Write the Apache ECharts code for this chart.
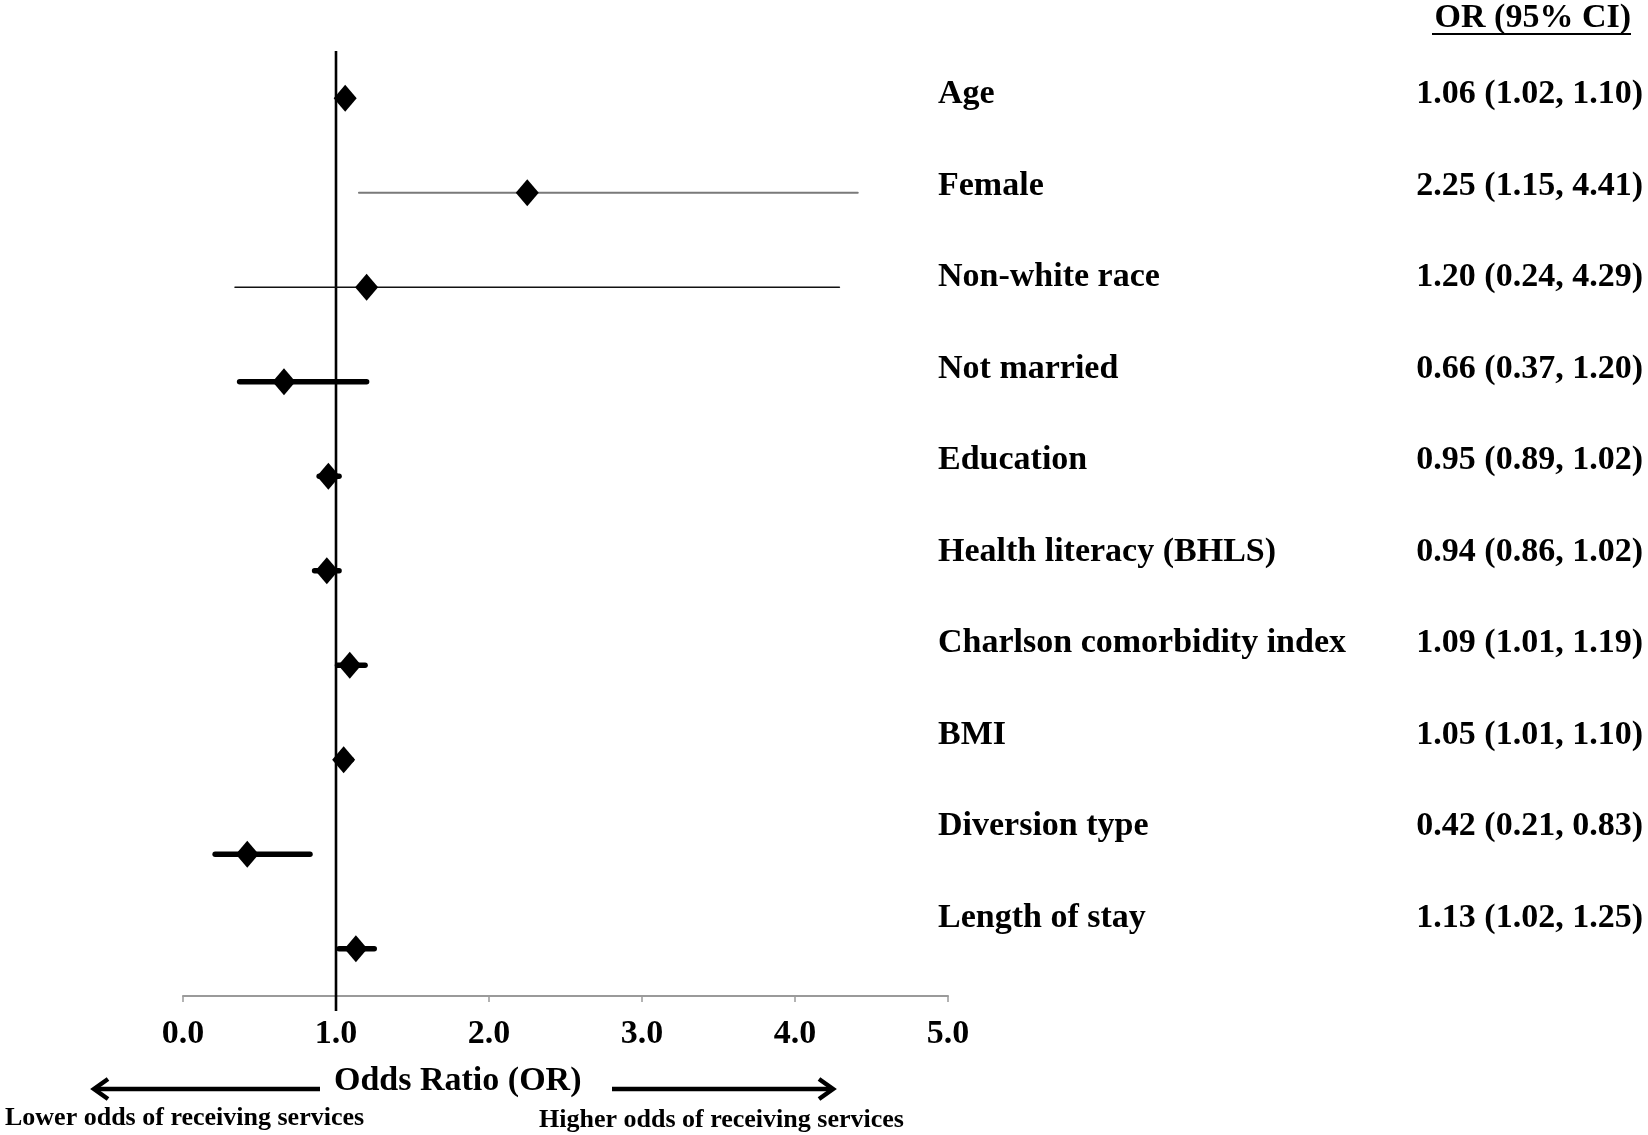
<!DOCTYPE html>
<html>
<head>
<meta charset="utf-8">
<script src="https://cdn.jsdelivr.net/npm/echarts@6/dist/echarts.min.js"></script>
<style>
  html, body { margin: 0; padding: 0; background: #fff; }
  #chart { width: 1648px; height: 1135px; }
</style>
</head>
<body>
<div id="chart"></div>
<script>
// ---- data ----
const categories = ['Age', 'Female', 'Non-white race', 'Not married', 'Education',
  'Health literacy (BHLS)', 'Charlson comorbidity index', 'BMI', 'Diversion type', 'Length of stay'];
const orValues = [1.06, 2.25, 1.20, 0.66, 0.95, 0.94, 1.09, 1.05, 0.42, 1.13];
const ciLower  = [1.02, 1.15, 0.34, 0.37, 0.89, 0.86, 1.01, 1.01, 0.21, 1.02];
const ciUpper  = [1.10, 4.41, 4.29, 1.20, 1.02, 1.02, 1.19, 1.10, 0.83, 1.25];
const ciLabels = ['1.06 (1.02, 1.10)', '2.25 (1.15, 4.41)', '1.20 (0.24, 4.29)', '0.66 (0.37, 1.20)',
  '0.95 (0.89, 1.02)', '0.94 (0.86, 1.02)', '1.09 (1.01, 1.19)', '1.05 (1.01, 1.10)',
  '0.42 (0.21, 0.83)', '1.13 (1.02, 1.25)'];
const xTickMin = 0, xTickMax = 5, xTickStep = 1;
const refOR = 1;
const headerText = 'OR (95% CI)';
const axisTitle = 'Odds Ratio (OR)';
const lowerText = 'Lower odds of receiving services';
const higherText = 'Higher odds of receiving services';

// ---- styling ----
const FONT = "'Liberation Serif', 'Times New Roman', serif";
const ciStyleByName = {
  'Female': { stroke: '#7a7a7a', lineWidth: 2 },
  'Non-white race': { stroke: '#111', lineWidth: 1.6 }
};
const defaultCiStyle = { stroke: '#000', lineWidth: 5.5, lineCap: 'round' };

const idx = categories.map((_, i) => i);
const chart = echarts.init(document.getElementById('chart'), null, { renderer: 'canvas' });

const textGridTop = 48.5, textGridBottom = 171;

const option = {
  backgroundColor: '#fff',
  animation: false,
  title: [
    { text: headerText, right: 17, top: 1, padding: 0,
      textStyle: { fontFamily: FONT, fontWeight: 'bold', fontSize: 34, color: '#000' } },
    { text: axisTitle, left: 334, top: 1064, padding: 0,
      textStyle: { fontFamily: FONT, fontWeight: 'bold', fontSize: 34, color: '#000' } },
    { text: lowerText, left: 5, top: 1105, padding: 0,
      textStyle: { fontFamily: FONT, fontWeight: 'bold', fontSize: 26, color: '#000' } },
    { text: higherText, left: 539, top: 1107, padding: 0,
      textStyle: { fontFamily: FONT, fontWeight: 'bold', fontSize: 26, color: '#000' } }
  ],
  graphic: [
    { type: 'line', shape: { x1: 1432, y1: 34, x2: 1631, y2: 34 }, style: { stroke: '#000', lineWidth: 2 } },
    // left arrow
    { type: 'line', shape: { x1: 320, y1: 1089, x2: 95, y2: 1089 }, style: { stroke: '#000', lineWidth: 4.5 } },
    { type: 'polyline', shape: { points: [[108, 1079], [94, 1089], [108, 1099]] },
      style: { stroke: '#000', lineWidth: 4.5, fill: null, lineJoin: 'miter' } },
    // right arrow
    { type: 'line', shape: { x1: 612, y1: 1089, x2: 831, y2: 1089 }, style: { stroke: '#000', lineWidth: 4.5 } },
    { type: 'polyline', shape: { points: [[819, 1079], [833, 1089], [819, 1099]] },
      style: { stroke: '#000', lineWidth: 4.5, fill: null, lineJoin: 'miter' } }
  ],
  grid: [
    { left: 183, right: 700, top: 51, bottom: 139, containLabel: false },
    { left: 1643, right: 3, top: textGridTop, bottom: textGridBottom },
    { left: 900, right: 718, top: textGridTop, bottom: textGridBottom }
  ],
  xAxis: [
    { gridIndex: 0, type: 'value', min: xTickMin, max: xTickMax, interval: xTickStep,
      axisLine: { show: true, onZero: false, lineStyle: { color: '#9a9a9a', width: 2 } },
      axisTick: { show: true, length: 6, lineStyle: { color: '#9a9a9a', width: 1.5 } },
      splitLine: { show: false },
      axisLabel: { formatter: v => v.toFixed(1), fontFamily: FONT, fontWeight: 'bold',
        fontSize: 34, color: '#000', margin: 21 } },
    { gridIndex: 1, type: 'value', show: false },
    { gridIndex: 2, type: 'value', show: false }
  ],
  yAxis: [
    { gridIndex: 0, type: 'value', min: -0.5, max: categories.length - 0.5, inverse: true, show: false },
    { gridIndex: 1, type: 'category', data: ciLabels, inverse: true, position: 'left',
      axisLine: { show: false }, axisTick: { show: false }, splitLine: { show: false },
      axisLabel: { interval: 0, margin: 0, fontFamily: FONT, fontWeight: 'bold', fontSize: 34, color: '#000' } },
    { gridIndex: 2, type: 'category', data: categories, inverse: true, position: 'right',
      axisLine: { show: false }, axisTick: { show: false }, splitLine: { show: false },
      axisLabel: { interval: 0, margin: 8, fontFamily: FONT, fontWeight: 'bold', fontSize: 34, color: '#000' } }
  ],
  series: [
    { // reference line at OR = 1 (extends slightly below the axis)
      type: 'line', xAxisIndex: 0, yAxisIndex: 0, clip: false, silent: true, symbol: 'none', z: 1,
      data: [[refOR, -0.5], [refOR, categories.length - 0.5 + 0.16]],
      lineStyle: { color: '#000', width: 2.6 }
    },
    { // confidence intervals
      type: 'custom', xAxisIndex: 0, yAxisIndex: 0, z: 2, silent: true,
      data: idx.map(i => [ciLower[i], ciUpper[i], i]),
      renderItem: function (params, api) {
        const i = api.value(2);
        const p1 = api.coord([api.value(0), i]);
        const p2 = api.coord([api.value(1), i]);
        const st = Object.assign({}, defaultCiStyle, ciStyleByName[categories[i]] || {});
        return { type: 'line', shape: { x1: p1[0], y1: p1[1], x2: p2[0], y2: p2[1] }, style: st };
      }
    },
    { // point estimates
      type: 'scatter', xAxisIndex: 0, yAxisIndex: 0, z: 3, silent: true,
      symbol: 'diamond', symbolSize: [23, 27],
      itemStyle: { color: '#000', opacity: 1 },
      data: idx.map(i => [orValues[i], i])
    }
  ]
};
chart.setOption(option);
</script>
</body>
</html>
